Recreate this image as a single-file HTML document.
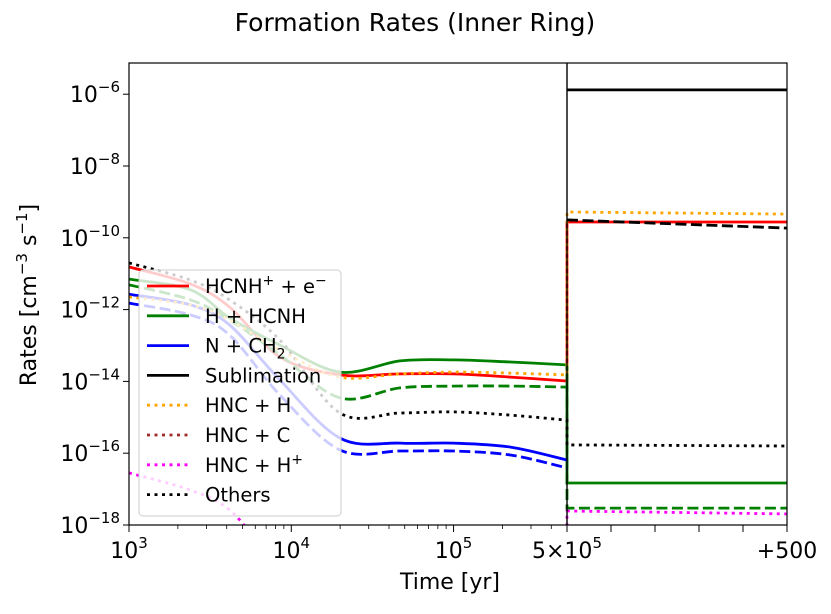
<!DOCTYPE html>
<html><head><meta charset="utf-8"><style>
body{margin:0;background:#fff}
svg text{font-family:"DejaVu Sans","Liberation Sans",sans-serif;fill:#000}
</style></head><body>
<svg id="chart" width="831" height="609" viewBox="0 0 831 609">
<defs><clipPath id="clip"><rect x="129" y="63" width="658" height="462"/></clipPath></defs>
<text x="415" y="31" font-size="25" text-anchor="middle">Formation Rates (Inner Ring)</text>
<g id="marks" clip-path="url(#clip)"></g>
<g id="axes"></g>
<g id="legend"></g>
<text x="450" y="589" font-size="22" text-anchor="middle">Time [yr]</text>
<text transform="translate(36,295) rotate(-90)" font-size="22" text-anchor="middle">Rates [cm<tspan dy="-9" font-size="15">−3</tspan><tspan dy="9"> s</tspan><tspan dy="-9" font-size="15">−1</tspan><tspan dy="9">]</tspan></text>
</svg>
<script>
// log10(time [yr]) sample points for main phase
const logTimes = [3, 3.38, 3.62, 3.93, 4.30, 4.67, 5.0, 5.35, 5.699];
// log10 rates in the main phase
const redSolid    = [-10.81,-11.29,-11.93,-13.32,-13.82,-13.79,-13.79,-13.88,-13.99];
const greenSolid  = [-11.15,-11.45,-12.23,-12.99,-13.74,-13.43,-13.40,-13.46,-13.54];
const greenDashed = [-11.31,-11.73,-12.29,-13.26,-14.46,-14.18,-14.13,-14.13,-14.16];
const blueSolid   = [-11.57,-11.87,-12.43,-13.96,-15.58,-15.72,-15.72,-15.83,-16.19];
const blueDashed  = [-11.82,-12.15,-12.71,-14.38,-15.91,-15.94,-15.94,-16.05,-16.41];
const othersDot   = [-10.70,-11.18,-11.73,-12.85,-14.88,-14.88,-14.85,-14.94,-15.08];
const orangeDot   = [-11.65,-11.87,-12.29,-13.13,-13.88,-13.79,-13.74,-13.77,-13.82];
const magentaDot  = [-16.55,-17.03,-17.58,-19,-19,-19,-19,-19,-19];
// second phase: years after 5e5 and log10 rates
const phase2Times = [0, 500];
const p2Sublim    = [-5.88,-5.88];
const p2SublimDash= [-9.50,-9.73];
const p2Orange    = [-9.28,-9.34];
const p2Red       = [-9.56,-9.56];
const p2Others    = [-15.77,-15.80];
const p2Green     = [-16.83,-16.83];
const p2GreenDash = [-17.53,-17.53];
const p2Magenta   = [-17.61,-17.69];
const yTicks = [-6,-8,-10,-12,-14,-16,-18];
const xTickLabels = ["3","4","5"];

const NS="http://www.w3.org/2000/svg";
const X0=129,XS=567,XE=787,YB=525,DEC=35.9;
function xMain(lt){return X0+(lt-3)*(XS-X0)/(Math.log10(5e5)-3);}
function xP2(t){return XS+t*(XE-XS)/500;}
function yS(v){return YB-(v+18)*DEC;}
function mk(tag,attrs,parent){const e=document.createElementNS(NS,tag);for(const k in attrs)e.setAttribute(k,attrs[k]);parent.appendChild(e);return e;}
const marks=document.getElementById('marks'),axes=document.getElementById('axes'),leg=document.getElementById('legend');
const styles={solid:"",dashed:"11 4.5",dotted:"3 4.5"};
function smooth(P){
  let d="M"+P[0][0].toFixed(1)+","+P[0][1].toFixed(1);
  for(let i=0;i<P.length-1;i++){
    const p0=P[Math.max(0,i-1)],p1=P[i],p2=P[i+1],p3=P[Math.min(P.length-1,i+2)];
    const c1=[p1[0]+(p2[0]-p0[0])/6,p1[1]+(p2[1]-p0[1])/6];
    const c2=[p2[0]-(p3[0]-p1[0])/6,p2[1]-(p3[1]-p1[1])/6];
    d+=" C"+c1.map(n=>n.toFixed(1)).join(",")+" "+c2.map(n=>n.toFixed(1)).join(",")+" "+p2[0].toFixed(1)+","+p2[1].toFixed(1);
  }
  return d;
}
function series(name,color,style,main,p2){
  let d=smooth(main.map((v,i)=>[xMain(logTimes[i]),yS(v)]));
  if(p2){p2.forEach((v,i)=>{d+=" L"+xP2(phase2Times[i]).toFixed(1)+","+yS(v).toFixed(1);});}
  const p=mk('path',{d:d,fill:"none",stroke:color,"stroke-width":2.8,"stroke-dasharray":styles[style]},marks);
  
  
}
function seriesP2(name,color,style,p2){
  const pts=p2.map((v,i)=>xP2(phase2Times[i]).toFixed(1)+","+yS(v).toFixed(1));
  const p=mk('polyline',{points:pts.join(" "),fill:"none",stroke:color,"stroke-width":2.8,"stroke-dasharray":styles[style]},marks);
  
  
}
series('hcnh-e-line','#ff0000','solid',redSolid,p2Red);
series('h-hcnh-line','#008000','solid',greenSolid,p2Green);
series('h-hcnh-dashed-line','#008000','dashed',greenDashed,p2GreenDash);
series('n-ch2-line','#0000ff','solid',blueSolid,null);
series('n-ch2-dashed-line','#0000ff','dashed',blueDashed,null);
series('others-line','#000000','dotted',othersDot,p2Others);
series('hnc-h-line','#ffa500','dotted',orangeDot,p2Orange);
series('hnc-hplus-line','#ff00ff','dotted',magentaDot,p2Magenta);
seriesP2('sublimation-line','#000000','solid',p2Sublim);
seriesP2('sublimation-dashed-line','#000000','dashed',p2SublimDash);

// axes
const frame=mk('rect',{x:X0,y:63,width:XE-X0,height:YB-63,fill:"none",stroke:"#000","stroke-width":1.2},axes);


const sep=mk('line',{x1:XS,x2:XS,y1:63,y2:YB,stroke:"#000","stroke-width":1.4},axes);


yTicks.forEach(v=>{
  const y=yS(v);
  mk('line',{x1:X0-6,x2:X0,y1:y,y2:y,stroke:"#000"},axes);
  const t=mk('text',{x:X0-9,y:y+8,"font-size":22,"text-anchor":"end"},axes);
  
  
  t.innerHTML='10<tspan dy="-10" font-size="15">'+(v<0?'−':'')+Math.abs(v)+'</tspan>';
});
for(let d=3;d<6;d++)for(let m=2;m<=9;m++){const lt=d+Math.log10(m);if(lt>5.7)break;const x=xMain(lt);mk('line',{x1:x,x2:x,y1:YB,y2:YB+4,stroke:"#000","stroke-width":0.8},axes);}
xTickLabels.forEach(s=>{
  const x=xMain(+s);
  mk('line',{x1:x,x2:x,y1:YB,y2:YB+7,stroke:"#000"},axes);
  const t=mk('text',{x:x,y:YB+33,"font-size":22,"text-anchor":"middle"},axes);
  
  
  t.innerHTML='10<tspan dy="-10" font-size="15">'+s+'</tspan>';
});
mk('line',{x1:XS,x2:XS,y1:YB,y2:YB+7,stroke:"#000"},axes);
const t5=mk('text',{x:XS,y:YB+33,"font-size":22,"text-anchor":"middle"},axes);


t5.innerHTML='5×10<tspan dy="-10" font-size="15">5</tspan>';
[100,200,300,400,500].forEach(t=>{const x=xP2(t);mk('line',{x1:x,x2:x,y1:YB,y2:YB+7,stroke:"#000"},axes);});
const tp=mk('text',{x:XE,y:YB+33,"font-size":22,"text-anchor":"middle"},axes);


tp.textContent='+500';

// legend
const lb=mk('rect',{x:139,y:270,width:202,height:246,rx:4,fill:"#fff","fill-opacity":0.8,stroke:"#ccc"},leg);


const entries=[["HCNH<tspan dy='-8' font-size='14'>+</tspan><tspan dy='8'> + e</tspan><tspan dy='-8' font-size='14'>−</tspan>","#ff0000","solid"],
["H + HCNH","#008000","solid"],["N + CH<tspan dy='6' font-size='14'>2</tspan>","#0000ff","solid"],["Sublimation","#000000","solid"],
["HNC + H","#ffa500","dotted"],["HNC + C","#a52a2a","dotted"],["HNC + H<tspan dy='-8' font-size='14'>+</tspan>","#ff00ff","dotted"],["Others","#000000","dotted"]];
entries.forEach((e,i)=>{
  const y=286+i*29.8;
  const g=mk('g',{},leg);
  
  
  mk('line',{x1:147,x2:189,y1:y,y2:y,stroke:e[1],"stroke-width":2.8,"stroke-dasharray":styles[e[2]]},g);
  const t=mk('text',{x:205,y:y+7,"font-size":19.5},g);
  t.innerHTML=e[0];
});
</script>
</body></html>
